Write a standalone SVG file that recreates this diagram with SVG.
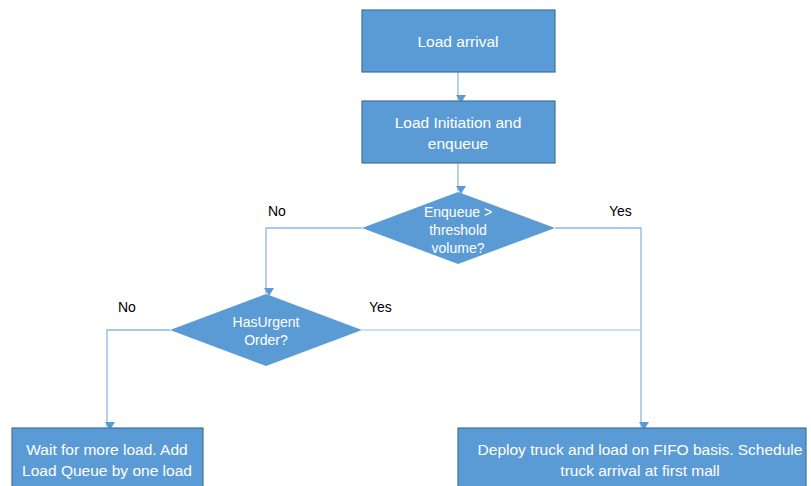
<svg xmlns="http://www.w3.org/2000/svg" width="811" height="486" viewBox="0 0 811 486">
  <style>
    .box { fill: #5B9BD5; stroke: #41719C; stroke-width: 1.2; }
    .txt { font-family: "Liberation Sans", Arial, sans-serif; font-size: 15.5px; fill: #ffffff; text-anchor: middle; }
    .dtxt { font-family: "Liberation Sans", Arial, sans-serif; font-size: 14px; fill: #ffffff; text-anchor: middle; }
    .lbl { font-family: "Liberation Sans", Arial, sans-serif; font-size: 14px; fill: #000000; }
    .ln { fill: none; stroke: #8DB8E2; stroke-width: 1.3; }
    .ln2 { fill: none; stroke: #BCD6EF; stroke-width: 1.3; }
  </style>
  <defs>
    <marker id="arr" markerWidth="10" markerHeight="10" refX="5" refY="8" orient="auto" markerUnits="userSpaceOnUse" viewBox="0 0 10 10">
      <path d="M0,0 L10,0 L5,8 Z" fill="#5B9BD5" transform="rotate(-90 5 5)"/>
    </marker>
  </defs>
  <rect width="811" height="486" fill="#ffffff"/>

  <g id="connectors">
    <path class="ln" d="M458,72 V100" marker-end="url(#arr)"/>
    <path class="ln" d="M458,163 V191" marker-end="url(#arr)"/>
    <path class="ln" d="M362,228 H266 V293" marker-end="url(#arr)"/>
    <path class="ln" d="M555,228 H641 V427" marker-end="url(#arr)"/>
    <path class="ln" d="M170,330 H107 V427" marker-end="url(#arr)"/>
    <path class="ln2" d="M362,330 H641"/>
  </g>

  <g id="load-arrival">
    <rect class="box" x="362" y="10" width="193" height="62"/>
    <text class="txt" x="458" y="47">Load arrival</text>
  </g>

  <g id="load-initiation">
    <rect class="box" x="362" y="101" width="193" height="62"/>
    <text class="txt" x="458" y="128">Load Initiation and</text>
    <text class="txt" x="458" y="149">enqueue</text>
  </g>

  <g id="threshold-check">
    <polygon class="box" points="458,192 555,228 458,264 362,228" style="stroke:none"/>
    <text class="dtxt" x="458" y="217">Enqueue &gt;</text>
    <text class="dtxt" x="458" y="235">threshold</text>
    <text class="dtxt" x="458" y="253">volume?</text>
    <text class="lbl" x="268" y="216">No</text>
    <text class="lbl" x="609" y="216">Yes</text>
  </g>

  <g id="urgent-check">
    <polygon class="box" points="266,294 362,330 266,366 170,330" style="stroke:none"/>
    <text class="dtxt" x="266" y="327">HasUrgent</text>
    <text class="dtxt" x="266" y="345">Order?</text>
    <text class="lbl" x="118" y="312">No</text>
    <text class="lbl" x="369" y="312">Yes</text>
  </g>

  <g id="wait-for-load">
    <rect class="box" x="12" y="428" width="191" height="62"/>
    <text class="txt" x="107" y="455">Wait for more load. Add</text>
    <text class="txt" x="107" y="476">Load Queue by one load</text>
  </g>

  <g id="deploy-truck">
    <rect class="box" x="458" y="428" width="348" height="62"/>
    <text class="txt" x="640" y="455">Deploy truck and load on FIFO basis. Schedule</text>
    <text class="txt" x="640" y="476">truck arrival at first mall</text>
  </g>
</svg>
